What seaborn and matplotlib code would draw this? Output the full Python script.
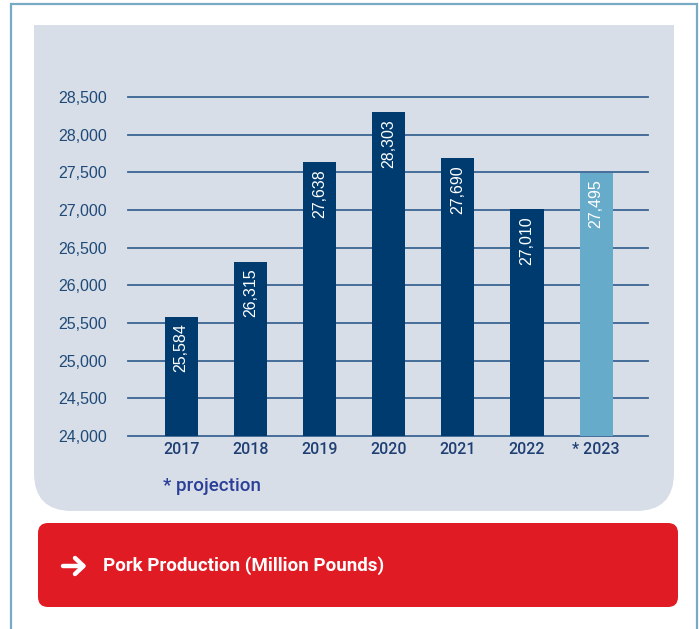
import matplotlib
matplotlib.use("Agg")
import matplotlib.pyplot as plt
import seaborn as sns
from matplotlib.patches import FancyBboxPatch, Rectangle

# ---- data ----
years = ["2017", "2018", "2019", "2020", "2021", "2022", "* 2023"]
production = [25584, 26315, 27638, 28303, 27690, 27010, 27495]
bar_colors = ["#003b6f", "#003b6f", "#003b6f", "#003b6f", "#003b6f", "#003b6f", "#67abcb"]
y_ticks = [24000, 24500, 25000, 25500, 26000, 26500, 27000, 27500, 28000, 28500]
title_text = "Pork Production (Million Pounds)"
note_text = "* projection"

W, H = 699, 629
fig = plt.figure(figsize=(W / 100, H / 100), dpi=100)
fig.patch.set_facecolor("white")

# ---- background decoration axes (pixel coordinates) ----
bg = fig.add_axes([0, 0, 1, 1], zorder=0)
bg.set_xlim(0, W)
bg.set_ylim(H, 0)
bg.axis("off")

# outer border lines (left, top, right)
bg.plot([11, 11, 697, 697], [H + 5, 4.3, 4.3, H + 5], color="#79aac4", lw=1.6,
        solid_joinstyle="miter")

panel_col = "#d7dee8"
# gray panel with rounded bottom corners
bg.add_patch(FancyBboxPatch((34, 25), 674 - 34, 511 - 25,
                            boxstyle="round,pad=0,rounding_size=38",
                            fc=panel_col, ec="none"))
bg.add_patch(Rectangle((34, 25), 674 - 34, 100, fc=panel_col, ec="none"))

# red title box
bg.add_patch(FancyBboxPatch((38, 523), 678 - 38, 607 - 523,
                            boxstyle="round,pad=0,rounding_size=10",
                            fc="#e01b24", ec="none"))
# arrow icon
bg.plot([63, 83], [566, 566], color="white", lw=3.2, solid_capstyle="round")
bg.plot([75, 83.5, 75], [558, 566, 574], color="white", lw=3.2,
        solid_capstyle="round", solid_joinstyle="round")
bg.text(103, 566, title_text, color="white", fontsize=13.5, fontweight="bold",
        va="center", ha="left", family=["Roboto", "DejaVu Sans"])

# projection note
bg.text(163, 486, note_text, color="#2b3f96", fontsize=13.5, fontweight="medium",
        va="center", ha="left", family=["Roboto", "DejaVu Sans"])

# ---- chart axes ----
left, right, top, bottom = 128, 648, 97, 436
ax = fig.add_axes([left / W, 1 - bottom / H, (right - left) / W, (bottom - top) / H],
                  zorder=2)
ax.patch.set_alpha(0)

sns.barplot(x=years, y=production, hue=years, palette=bar_colors, legend=False,
            width=0.48, saturation=1, ax=ax, zorder=3)

ax.set_ylim(24000, 28500)
ax.set_xlim(-0.77, 6.75)
ax.set_yticks(y_ticks)
ax.set_yticklabels([f"{v:,}" for v in y_ticks], family=["Liberation Sans"],
                   fontsize=11.5, color="#1f4a78")
ax.set_xticks(range(len(years)))
ax.set_xticklabels(years, family=["Roboto", "DejaVu Sans"], fontsize=11.5,
                   fontweight="medium", color="#1f3f73")
ax.tick_params(axis="both", length=0)
ax.tick_params(axis="y", pad=15)
ax.tick_params(axis="x", pad=4)
for s in ax.spines.values():
    s.set_visible(False)
for t in y_ticks:
    ax.axhline(t, color="#3a6592", lw=1.3, zorder=1, clip_on=False)

for i, v in enumerate(production):
    ax.annotate(f"{v:,}", xy=(i, v), xytext=(0, -5), textcoords="offset points",
                ha="center", va="top", rotation=90, color="white", fontsize=11.5,
                family=["Liberation Sans"], zorder=5)

ax.set_xlabel("")
ax.set_ylabel("")

fig.savefig("out.png", dpi=100)
